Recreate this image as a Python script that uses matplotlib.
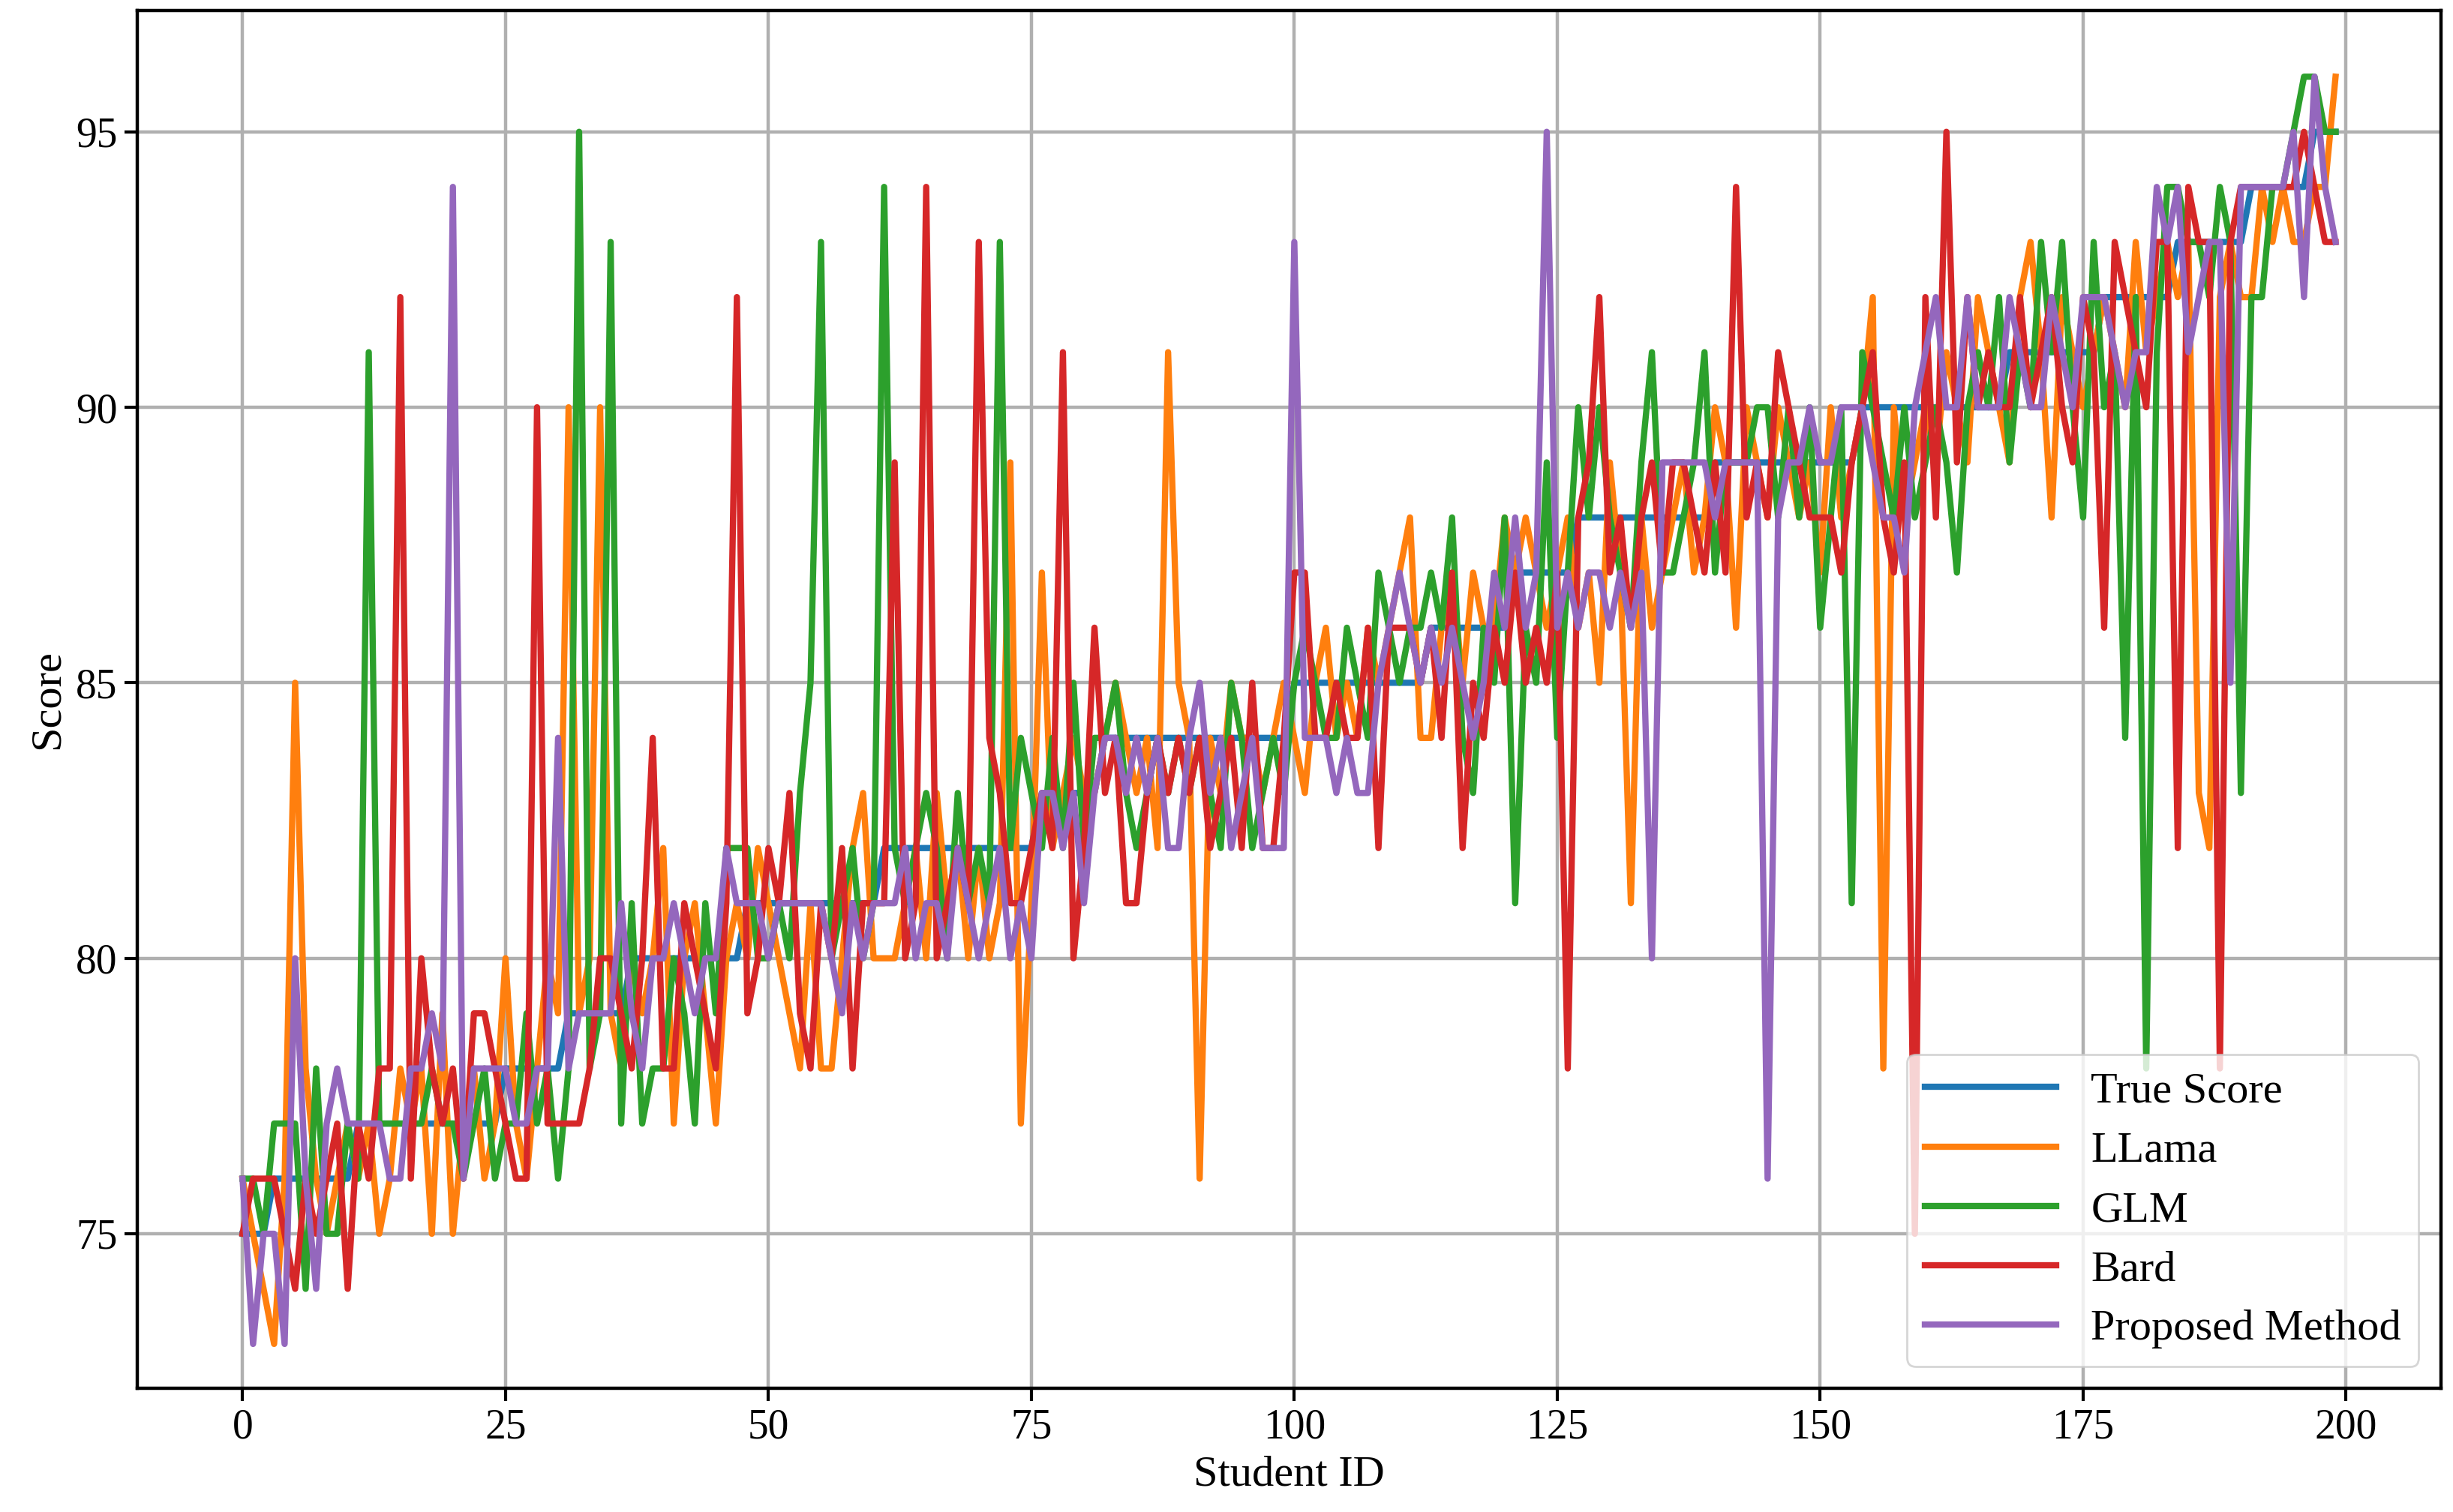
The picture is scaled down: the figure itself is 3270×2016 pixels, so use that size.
import matplotlib
matplotlib.use("Agg")
import matplotlib.pyplot as plt
import numpy as np

plt.rcParams['font.family'] = ['Liberation Serif', 'DejaVu Serif']

true_score = [
    75, 75, 75, 76, 76, 76, 76, 76, 76, 76,
    76, 77, 77, 77, 77, 77, 77, 77, 77, 77,
    77, 77, 77, 77, 77, 78, 78, 78, 78, 78,
    78, 79, 79, 79, 79, 79, 79, 80, 80, 80,
    80, 80, 80, 80, 80, 80, 80, 80, 81, 81,
    81, 81, 81, 81, 81, 81, 81, 81, 81, 81,
    81, 82, 82, 82, 82, 82, 82, 82, 82, 82,
    82, 82, 82, 82, 82, 82, 83, 83, 83, 83,
    83, 83, 84, 84, 84, 84, 84, 84, 84, 84,
    84, 84, 84, 84, 84, 84, 84, 84, 84, 84,
    85, 85, 85, 85, 85, 85, 85, 85, 85, 85,
    85, 85, 85, 86, 86, 86, 86, 86, 86, 86,
    86, 87, 87, 87, 87, 87, 87, 88, 88, 88,
    88, 88, 88, 88, 88, 88, 88, 88, 88, 88,
    89, 89, 89, 89, 89, 89, 89, 89, 89, 89,
    89, 89, 89, 89, 90, 90, 90, 90, 90, 90,
    90, 90, 90, 90, 90, 90, 90, 90, 91, 91,
    91, 91, 91, 91, 91, 91, 91, 92, 92, 92,
    92, 92, 92, 92, 93, 93, 93, 93, 93, 93,
    93, 94, 94, 94, 94, 94, 94, 95, 95, 95]

llama = [
    76, 75, 74, 73, 76, 85, 78, 76, 75, 76,
    77, 76, 77, 75, 76, 78, 77, 78, 75, 79,
    75, 77, 78, 76, 77, 80, 77, 76, 78, 80,
    79, 90, 79, 80, 90, 79, 78, 80, 79, 80,
    82, 77, 80, 81, 79, 77, 80, 81, 80, 82,
    81, 80, 79, 78, 81, 78, 78, 80, 82, 83,
    80, 80, 80, 81, 82, 80, 83, 81, 82, 80,
    82, 80, 81, 89, 77, 81, 87, 82, 83, 84,
    83, 83, 84, 85, 84, 83, 84, 82, 91, 85,
    84, 76, 84, 83, 85, 84, 84, 83, 84, 85,
    84, 83, 85, 86, 84, 85, 84, 86, 85, 86,
    87, 88, 84, 84, 86, 87, 85, 87, 86, 86,
    88, 87, 88, 87, 86, 87, 88, 86, 87, 85,
    89, 87, 81, 88, 86, 87, 88, 89, 87, 88,
    90, 89, 86, 90, 89, 88, 90, 89, 88, 89,
    87, 90, 88, 89, 90, 92, 78, 90, 88, 89,
    90, 89, 91, 90, 89, 92, 91, 90, 89, 92,
    93, 91, 88, 92, 91, 90, 91, 92, 91, 90,
    93, 91, 92, 93, 92, 93, 83, 82, 92, 93,
    92, 92, 94, 93, 94, 93, 93, 94, 94, 96]

glm = [
    76, 76, 75, 77, 77, 77, 74, 78, 75, 75,
    77, 76, 91, 77, 77, 77, 77, 77, 78, 77,
    77, 76, 77, 78, 76, 77, 77, 79, 77, 78,
    76, 78, 95, 78, 79, 93, 77, 81, 77, 78,
    78, 80, 79, 77, 81, 79, 82, 82, 82, 80,
    80, 81, 80, 83, 85, 93, 80, 81, 82, 80,
    81, 94, 82, 81, 82, 83, 82, 80, 83, 81,
    82, 81, 93, 82, 84, 83, 82, 84, 82, 85,
    82, 84, 84, 85, 83, 82, 83, 84, 83, 84,
    83, 84, 83, 82, 85, 84, 82, 83, 84, 83,
    85, 86, 85, 84, 84, 86, 85, 84, 87, 86,
    85, 86, 86, 87, 86, 88, 84, 83, 86, 85,
    88, 81, 86, 85, 89, 84, 87, 90, 88, 90,
    88, 87, 86, 89, 91, 87, 87, 88, 89, 91,
    87, 89, 89, 89, 90, 90, 88, 90, 88, 90,
    86, 88, 90, 81, 91, 90, 89, 88, 90, 88,
    89, 90, 89, 87, 90, 91, 90, 92, 89, 91,
    90, 93, 91, 93, 90, 88, 93, 90, 91, 84,
    92, 78, 91, 94, 94, 93, 93, 92, 94, 93,
    83, 92, 92, 94, 94, 95, 96, 96, 95, 95]

bard = [
    75, 76, 76, 76, 75, 74, 76, 75, 76, 77,
    74, 77, 76, 78, 78, 92, 76, 80, 78, 77,
    78, 76, 79, 79, 78, 77, 76, 76, 90, 77,
    77, 77, 77, 78, 80, 80, 79, 78, 80, 84,
    78, 78, 81, 80, 79, 78, 81, 92, 79, 80,
    82, 81, 83, 79, 78, 81, 80, 82, 78, 81,
    81, 81, 89, 80, 81, 94, 80, 81, 82, 81,
    93, 84, 83, 81, 81, 82, 83, 82, 91, 80,
    82, 86, 83, 84, 81, 81, 83, 84, 83, 84,
    83, 84, 82, 83, 84, 82, 85, 82, 82, 84,
    87, 87, 84, 84, 85, 84, 84, 86, 82, 86,
    86, 86, 85, 86, 84, 87, 82, 85, 84, 86,
    85, 87, 85, 86, 85, 87, 78, 88, 89, 92,
    87, 88, 86, 88, 89, 87, 89, 89, 88, 87,
    89, 87, 94, 88, 89, 88, 91, 90, 89, 88,
    88, 88, 87, 89, 90, 91, 88, 87, 89, 75,
    92, 88, 95, 89, 92, 90, 91, 90, 90, 92,
    90, 91, 92, 90, 89, 92, 91, 86, 93, 92,
    91, 90, 93, 93, 82, 94, 93, 93, 78, 93,
    94, 94, 94, 94, 94, 94, 95, 94, 93, 93]

proposed = [
    76, 73, 75, 75, 73, 80, 76, 74, 77, 78,
    77, 77, 77, 77, 76, 76, 78, 78, 79, 78,
    94, 76, 78, 78, 78, 78, 77, 77, 78, 78,
    84, 78, 79, 79, 79, 79, 81, 79, 78, 80,
    80, 81, 80, 79, 80, 80, 82, 81, 81, 81,
    80, 81, 81, 81, 81, 81, 80, 79, 81, 80,
    81, 81, 81, 82, 80, 81, 81, 80, 82, 81,
    80, 81, 82, 80, 81, 80, 83, 83, 82, 83,
    81, 83, 84, 84, 83, 84, 83, 84, 82, 82,
    84, 85, 83, 84, 82, 83, 84, 82, 82, 82,
    93, 84, 84, 84, 83, 84, 83, 83, 85, 86,
    87, 86, 85, 86, 85, 86, 85, 84, 85, 87,
    86, 88, 86, 87, 95, 86, 87, 86, 87, 87,
    86, 87, 86, 87, 80, 89, 89, 89, 89, 89,
    88, 89, 89, 89, 89, 76, 88, 89, 89, 90,
    89, 89, 90, 90, 90, 89, 88, 88, 87, 90,
    91, 92, 90, 90, 92, 90, 90, 90, 92, 91,
    90, 90, 92, 91, 90, 92, 92, 92, 91, 90,
    91, 91, 94, 93, 94, 91, 92, 93, 93, 85,
    94, 94, 94, 94, 94, 95, 92, 96, 94, 93]

series = [("True Score", true_score), ("LLama", llama), ("GLM", glm),
          ("Bard", bard), ("Proposed Method", proposed)]

fig, ax = plt.subplots(figsize=(16.35, 10.08), dpi=200)
x = np.arange(len(true_score))
for name, vals in series:
    ax.plot(x, vals, lw=3, label=name)

ax.set_xlim(-10, 209)
ax.set_ylim(72.2, 97.2)
ax.set_yticks([75, 80, 85, 90, 95])
ax.grid(True, color='#b0b0b0', lw=1.6)
ax.set_axisbelow(True)
ax.tick_params(labelsize=20, width=1.5, length=6)
for s in ax.spines.values():
    s.set_linewidth(1.6)
ax.set_xlabel("Student ID", fontsize=21, labelpad=4)
ax.set_ylabel("Score", fontsize=21)
ax.legend(loc='lower right', fontsize=21, handlelength=3, labelspacing=0.45)
fig.subplots_adjust(left=0.056, right=0.995, top=0.993, bottom=0.082)
fig.savefig("out.png", dpi=200)
